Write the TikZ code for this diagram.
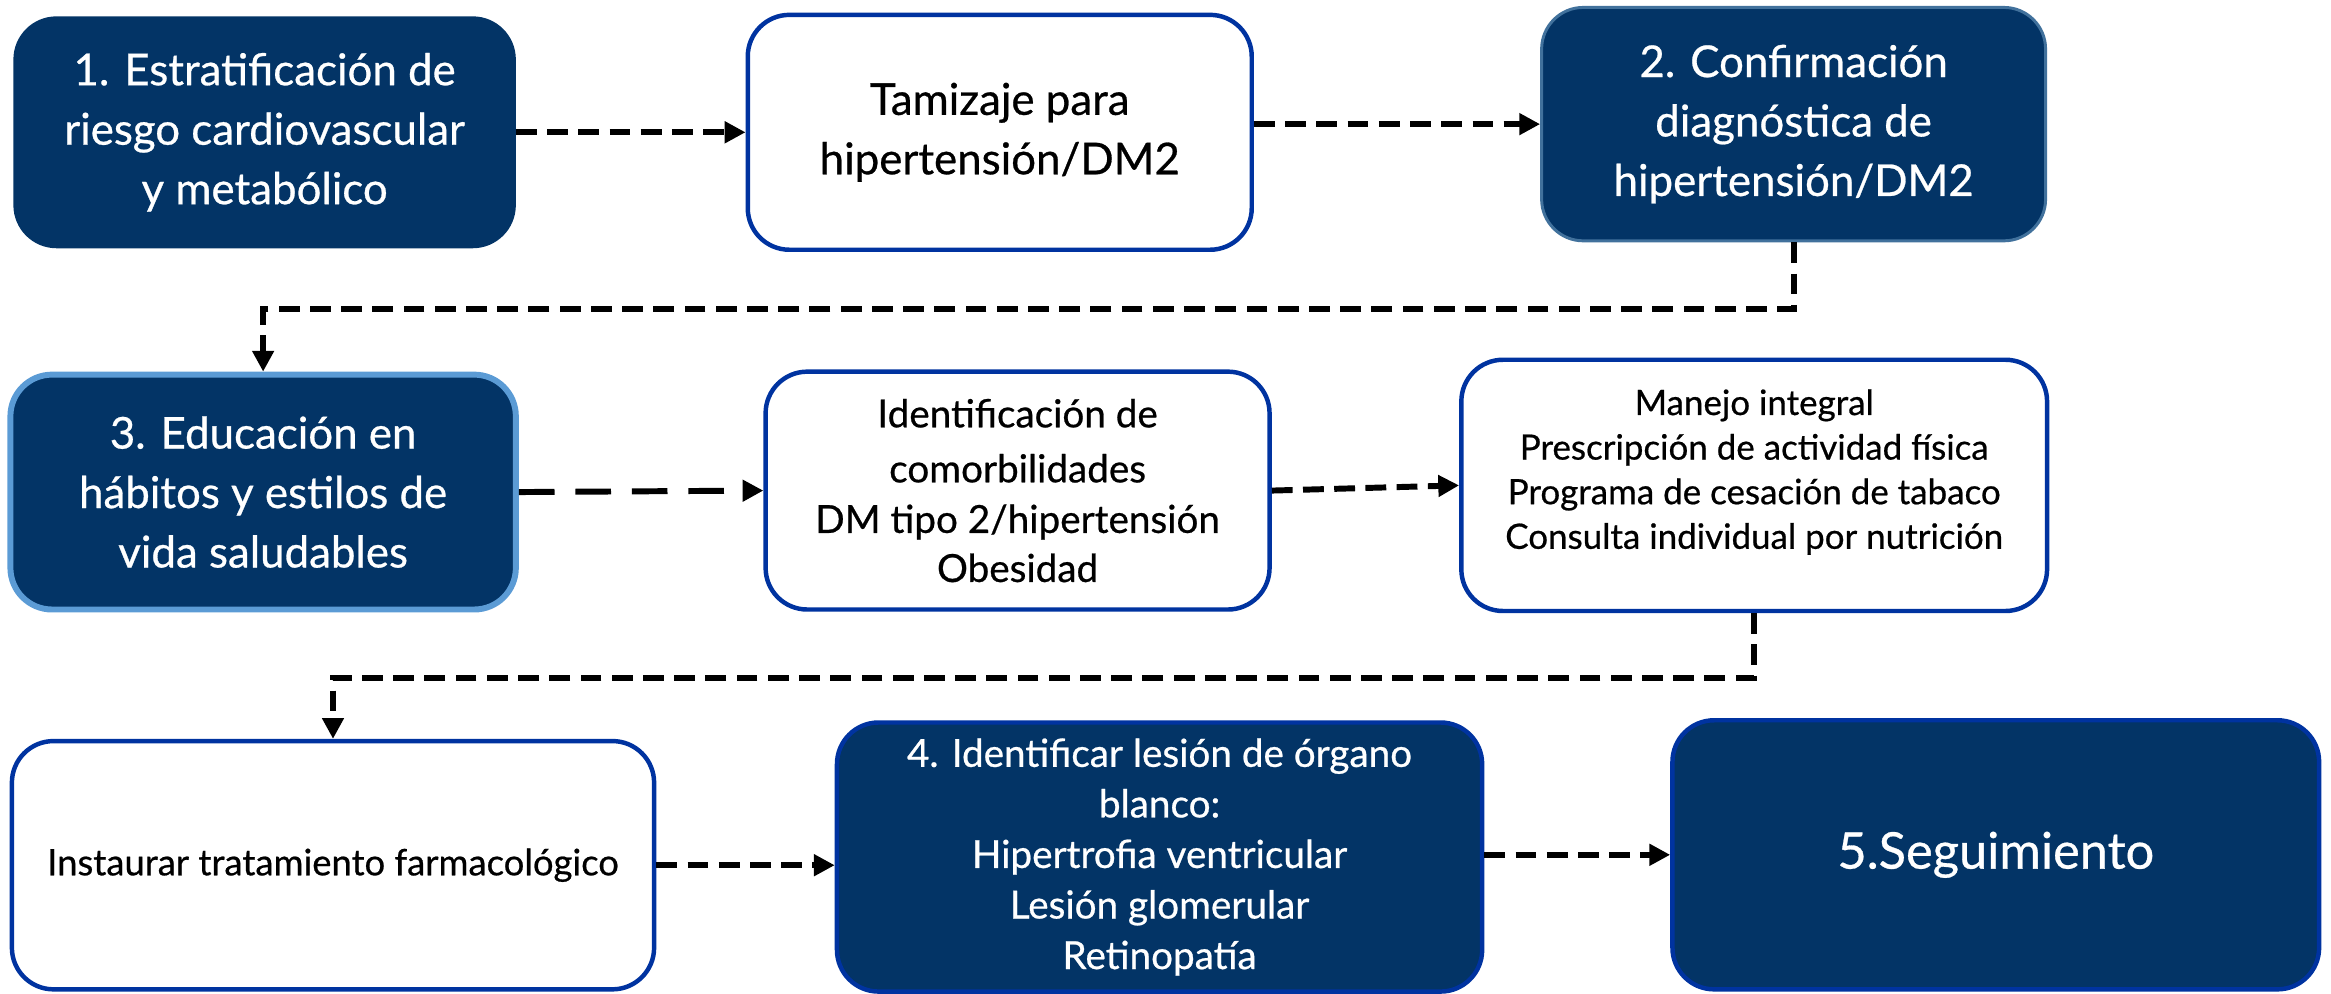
\documentclass[tikz,border=0pt]{standalone}
\usepackage{fontspec}
\setmainfont{Lato}[FakeBold=0.6]
\usetikzlibrary{arrows.meta}
\definecolor{navy}{HTML}{033466}
\definecolor{bborder}{HTML}{0033A0}
\definecolor{lborder}{HTML}{5B9BD5}
\definecolor{sborder}{HTML}{41719C}
\tikzset{
  darkbox/.style={rounded corners=28pt, fill=navy, draw=navy, line width=2pt, text=white, align=center, inner sep=0pt},
  whitebox/.style={rounded corners=28pt, fill=white, draw=bborder, line width=3pt, text=black, align=center, inner sep=0pt},
  conn/.style={line width=4pt, dash pattern=on 14pt off 7pt, -{Triangle[length=14pt,width=14pt]}},
  connlong/.style={line width=4pt, dash pattern=on 24pt off 14pt, -{Triangle[length=14pt,width=14pt]}},
  fa/.style={font=\fontsize{29.5}{40}\selectfont},
  fb/.style={font=\fontsize{26}{37}\selectfont},
  fc/.style={font=\fontsize{23.5}{30}\selectfont},
  fd/.style={font=\fontsize{26}{34}\selectfont},
}
\begin{document}
\begin{tikzpicture}[x=1pt,y=-1pt]
\useasboundingbox (0,0) rectangle (1568,668);
% row 1
\node[darkbox, fa, minimum width=336pt, minimum height=154pt] (b1) at (178,89)
  {1. Estratificación de\\riesgo cardiovascular\\y metabólico};
\node[whitebox, fa, minimum width=339pt, minimum height=158pt] (b2) at (672.5,89)
  {Tamizaje para\\hipertensión/DM2};
\node[darkbox, fa, draw=sborder, minimum width=339pt, minimum height=157pt] (b3) at (1206.5,83.5)
  {2. Confirmación\\diagnóstica de\\hipertensión/DM2};
% row 2
\node[darkbox, fa, draw=lborder, line width=4pt, minimum width=340pt, minimum height=158pt] (b4) at (177,331)
  {3. Educación en\\hábitos y estilos de\\vida saludables};
\node[whitebox, fb, minimum width=339pt, minimum height=160pt] (b5) at (684.5,330)
  {Identificación de\\comorbilidades\\[-3pt]DM tipo 2/hipertensión\\[-4pt]Obesidad};
\node[whitebox, fc, minimum width=394pt, minimum height=169pt] (b6) at (1180,326.5)
  {Manejo integral\\Prescripción de actividad física\\Programa de cesación de tabaco\\Consulta individual por nutrición\\[-8pt]\mbox{}};
% row 3
\node[whitebox, font=\fontsize{24.5}{30}\selectfont, minimum width=432pt, minimum height=167pt] (b7) at (224,582)
  {Instaurar tratamiento farmacológico};
\node[darkbox, fd, draw=bborder, line width=3pt, minimum width=434pt, minimum height=181pt] (b8) at (780,576.5)
  {4. Identificar lesión de órgano\\blanco:\\Hipertrofia ventricular\\Lesión glomerular\\Retinopatía};
\node[darkbox, font=\fontsize{34}{40}\selectfont, draw=bborder, line width=3pt, minimum width=435pt, minimum height=181pt] (b9) at (1342.5,575)
  {5.Seguimiento};
% connectors
\coordinate (m1) at (0,208);
\coordinate (m2) at (0,456);
\draw[conn] (b1.east) -- (b2.west);
\draw[conn] (b2.east |- b3.west) -- (b3.west);
\draw[conn] (b3.south) -- (b3.south |- m1) -| (b4.north);
\draw[connlong] (b4.east) -- (b5.west);
\draw[conn] (b5.east) -- (b6.west);
\draw[conn] (b6.south) -- (b6.south |- m2) -| (b7.north);
\draw[conn] (b7.east) -- (b7.east -| b8.west);
\draw[conn] (b8.east |- b9.west) -- (b9.west);
\end{tikzpicture}
\end{document}
